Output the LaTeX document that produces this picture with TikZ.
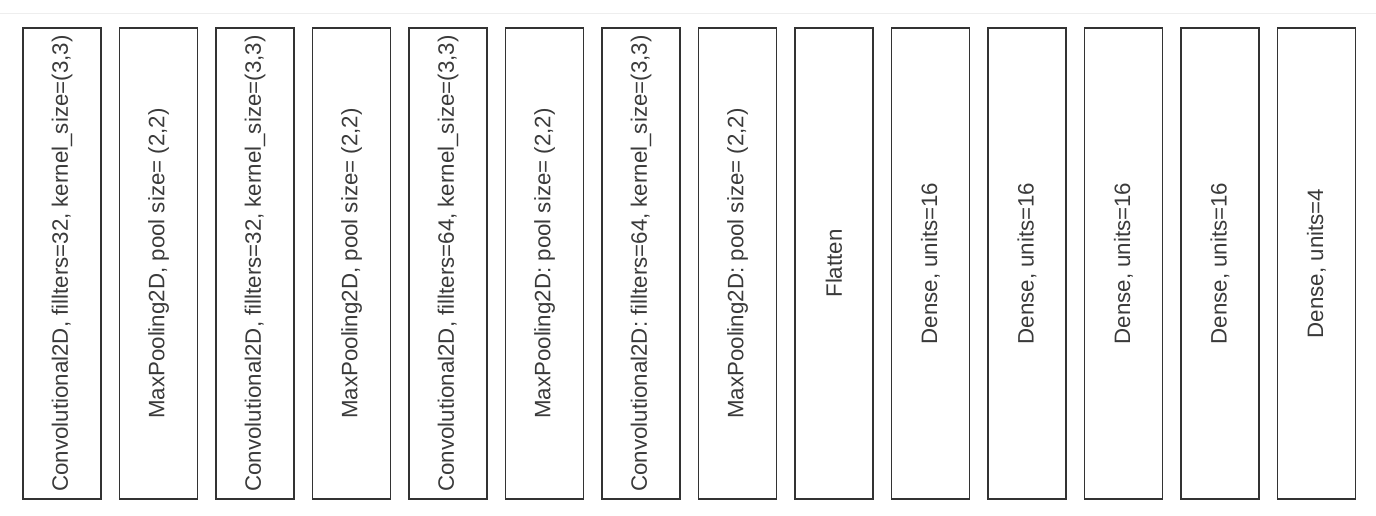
\documentclass[tikz,border=0pt]{standalone}
\usepackage{fontspec}
\setmainfont{Liberation Sans}
\definecolor{edge}{HTML}{333333}
\definecolor{ink}{HTML}{3A3A3A}
\definecolor{faint}{HTML}{EEEEEE}
\begin{document}
\begin{tikzpicture}[x=1pt,y=-1pt,
  layer/.style={draw=edge, line width=1.6pt, rectangle, rotate=90,
    minimum width=471pt, minimum height=78pt, inner sep=0pt,
    text=ink, font=\fontsize{22.3}{26}\selectfont}]
\useasboundingbox (0,0) rectangle (1376,516);
\coordinate (tl) at (0,14);
\coordinate (tr) at (1376,14);
\draw[faint, line width=1pt] (tl) -- (tr);
\node[layer] (l1)  at ({62+96.5*0},263.5) {Convolutional2D, fillters=32, kernel\_size=(3,3)};
\node[layer] (l2)  at ({62+96.5*1},263.5) {MaxPooling2D, pool size= (2,2)};
\node[layer] (l3)  at ({62+96.5*2},263.5) {Convolutional2D, fillters=32, kernel\_size=(3,3)};
\node[layer] (l4)  at ({62+96.5*3},263.5) {MaxPooling2D, pool size= (2,2)};
\node[layer] (l5)  at ({62+96.5*4},263.5) {Convolutional2D, fillters=64, kernel\_size=(3,3)};
\node[layer] (l6)  at ({62+96.5*5},263.5) {MaxPooling2D: pool size= (2,2)};
\node[layer] (l7)  at ({62+96.5*6},263.5) {Convolutional2D: fillters=64, kernel\_size=(3,3)};
\node[layer] (l8)  at ({62+96.5*7},263.5) {MaxPooling2D: pool size= (2,2)};
\node[layer] (l9)  at ({62+96.5*8},263.5) {Flatten};
\node[layer] (l10) at ({62+96.5*9},263.5) {Dense, units=16};
\node[layer] (l11) at ({62+96.5*10},263.5) {Dense, units=16};
\node[layer] (l12) at ({62+96.5*11},263.5) {Dense, units=16};
\node[layer] (l13) at ({62+96.5*12},263.5) {Dense, units=16};
\node[layer] (l14) at ({62+96.5*13},263.5) {Dense, units=4};
\end{tikzpicture}
\end{document}
